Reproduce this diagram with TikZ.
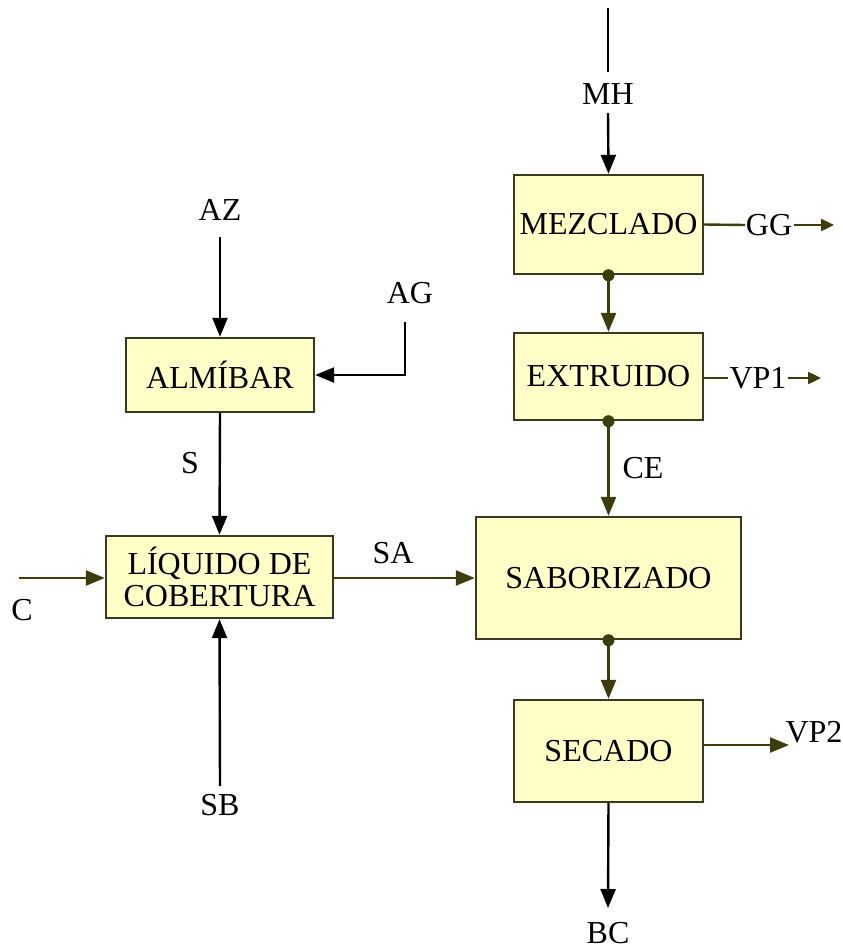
\documentclass[tikz,border=0pt]{standalone}
\usepackage{fontspec}
\setmainfont{Liberation Serif}
\usetikzlibrary{arrows.meta}
\definecolor{boxfill}{HTML}{FFFFC8}
\definecolor{boxline}{HTML}{3A3A20}
\definecolor{olive}{HTML}{3C3C0C}
\begin{document}
\begin{tikzpicture}[x=1pt,y=-1pt,
  proc/.style={draw=boxline,line width=2.4pt,fill=boxfill,inner sep=0pt},
  lbl/.style={inner sep=0pt,font=\fontsize{32}{35}\selectfont},
  flow/.style={line width=2.4pt,-{Triangle[length=19pt,width=15pt]}},
  flowo/.style={flow,draw=olive,color=olive},
  plaino/.style={line width=2.4pt,draw=olive},
  smallo/.style={line width=2.4pt,draw=olive,color=olive,-{Triangle[length=13pt,width=12pt]}},
  dotc/.style={circle,fill=olive,inner sep=0pt,minimum size=12pt}]
\useasboundingbox (0,0) rectangle (843,951);
% boxes
\node[proc,minimum width=189pt,minimum height=99pt] (mez) at (608.5,224.5) {};
\node[lbl] at (mez.center) {MEZCLADO};
\node[proc,minimum width=189pt,minimum height=87pt] (ext) at (608.5,376.5) {};
\node[lbl] at (ext.center) {EXTRUIDO};
\node[proc,minimum width=265pt,minimum height=122pt] (sab) at (608.5,578) {};
\node[lbl] at (sab.center) {SABORIZADO};
\node[proc,minimum width=189pt,minimum height=102pt] (sec) at (608.5,751) {};
\node[lbl] at (sec.center) {SECADO};
\node[proc,minimum width=188pt,minimum height=74pt] (alm) at (220,375) {};
\node[lbl] at (alm.center) {ALMÍBAR};
\node[proc,minimum width=227pt,minimum height=82pt] (liq) at (219.5,577) {};
\node[lbl,align=center] at (liq.center) {LÍQUIDO DE\\[-3pt]COBERTURA};
% labels
\node[lbl] (mh) at (608,94) {MH};
\node[lbl] (gg) at (769,225) {GG};
\node[lbl] (vp1) at (758,378) {VP1};
\node[lbl] (ce) at (643,468) {CE};
\node[lbl] (vp2) at (814,732) {VP2};
\node[lbl] (bc) at (608,933) {BC};
\node[lbl] (az) at (220,210) {AZ};
\node[lbl] (ag) at (410,293) {AG};
\node[lbl] (s) at (190,463) {S};
\node[lbl] (c) at (22,610) {C};
\node[lbl] (sa) at (393,553) {SA};
\node[lbl] (sb) at (220,805) {SB};
% coordinates
\coordinate (mhtop) at (608,8);
\coordinate (mhmid) at (608,72);
\coordinate (mhlow) at (608,113);
\coordinate (gga) at (745,225);
\coordinate (ggb) at (794,225);
\coordinate (ggc) at (834,225);
\coordinate (vpa) at (728,378);
\coordinate (vpb) at (788,378);
\coordinate (vpc) at (821,378);
\coordinate (vp2e) at (789,745);
\coordinate (bce) at (608,908);
\coordinate (azs) at (220,237);
\coordinate (ags) at (405,322);
\coordinate (agc) at (405,375);
\coordinate (cs) at (19,578);
\coordinate (sbs) at (220,786);
% right column
\draw[line width=2.4pt] (mhtop) -- (mhmid);
\draw[flow] (mhlow) -- (mez.north);
\draw[plaino] (mez.east) -- (gga);
\draw[smallo] (ggb) -- (ggc);
\draw[flowo] (mez.south) -- (ext.north);
\draw[plaino] (ext.east |- vpa) -- (vpa);
\draw[smallo] (vpb) -- (vpc);
\draw[flowo] (ext.south) -- (sab.north);
\draw[flowo] (sab.south) -- (sec.north);
\draw[flowo] (sec.east |- vp2e) -- (vp2e);
\draw[flow] (sec.south) -- (bce);
\node[dotc] at (mez.south) {};
\node[dotc] at (ext.south) {};
\node[dotc] at (sab.south) {};
% left column
\draw[flow] (azs) -- (alm.north);
\draw[flow] (ags) -- (agc) -- (alm.east);
\draw[flow] (alm.south) -- (liq.north);
\draw[flowo] (cs) -- (cs -| liq.west);
\draw[flowo] (liq.east |- cs) -- (sab.west |- cs);
\draw[flow] (sbs) -- (liq.south);
\end{tikzpicture}
\end{document}
